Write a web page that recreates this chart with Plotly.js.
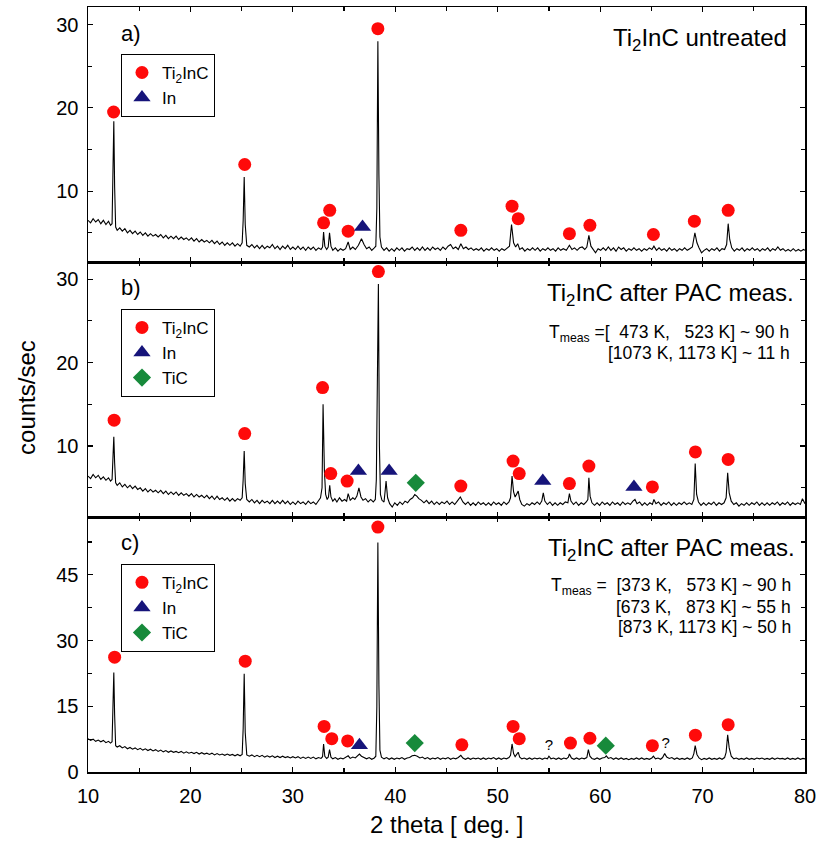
<!DOCTYPE html>
<html>
<head>
<meta charset="utf-8">
<script src="https://cdn.plot.ly/plotly-3.0.1.min.js"></script>
<style>html,body{margin:0;padding:0;background:#fff;}#chart{width:816px;height:841px;}</style>
</head>
<body>
<div id="chart"></div>
<script>
// ---------- Data ----------
// [2theta, counts/sec]
const patternA = [[10.0,6.5],[10.25,6.2],[10.5,6.7],[10.75,6.3],[11.0,6.6],[11.25,6.1],[11.5,6.5],[11.75,6.0],[12.0,6.4],[12.2,5.9],[12.35,6.1],[12.45,11.5],[12.52,18.4],[12.6,10.5],[12.7,5.7],[12.85,5.3],[13.1,5.6],[13.35,5.2],[13.6,5.5],[13.85,5.0],[14.1,5.3],[14.35,4.9],[14.6,5.2],[14.85,4.8],[15.1,5.1],[15.35,4.7],[15.6,5.0],[15.85,4.6],[16.1,4.9],[16.35,4.6],[16.6,4.8],[16.85,4.5],[17.1,4.8],[17.35,4.4],[17.6,4.7],[17.85,4.3],[18.1,4.6],[18.35,4.3],[18.6,4.6],[18.85,4.2],[19.1,4.5],[19.35,4.2],[19.6,4.4],[19.85,4.1],[20.1,4.4],[20.35,4.0],[20.6,4.3],[20.85,3.9],[21.1,4.2],[21.35,3.9],[21.6,4.1],[21.85,3.8],[22.1,4.1],[22.35,3.7],[22.6,4.0],[22.85,3.6],[23.1,3.9],[23.35,3.5],[23.6,3.8],[23.85,3.5],[24.1,3.8],[24.35,3.4],[24.6,3.7],[24.85,3.4],[25.05,3.8],[25.15,6.5],[25.25,11.7],[25.35,6.0],[25.5,3.5],[25.75,3.3],[26.0,3.6],[26.25,3.2],[26.5,3.5],[26.75,3.1],[27.0,3.5],[27.25,3.1],[27.5,3.4],[27.75,3.2],[28.0,3.6],[28.25,3.1],[28.5,3.4],[28.75,3.0],[29.0,3.4],[29.25,3.1],[29.5,3.5],[29.75,3.0],[30.0,3.3],[30.25,3.0],[30.5,3.4],[30.75,3.0],[31.0,3.3],[31.25,2.9],[31.5,3.3],[31.75,3.0],[32.0,3.3],[32.25,2.9],[32.5,3.2],[32.75,3.0],[32.9,3.3],[33.0,5.1],[33.12,3.4],[33.3,3.0],[33.45,3.3],[33.58,5.0],[33.72,3.4],[33.9,2.9],[34.15,3.2],[34.4,2.8],[34.65,3.1],[34.9,2.9],[35.15,3.1],[35.4,3.9],[35.6,3.0],[35.85,3.3],[36.1,3.0],[36.4,3.5],[36.7,4.3],[36.95,3.6],[37.2,3.1],[37.45,3.3],[37.7,2.9],[37.95,3.2],[38.1,3.4],[38.2,8.0],[38.3,28.0],[38.4,12.0],[38.5,4.5],[38.65,3.3],[38.9,2.9],[39.15,3.2],[39.4,2.8],[39.65,3.1],[39.9,2.8],[40.15,3.2],[40.4,2.9],[40.65,3.2],[40.9,2.8],[41.15,3.1],[41.4,3.0],[41.65,3.3],[41.9,2.9],[42.15,3.2],[42.4,2.9],[42.65,3.3],[42.9,2.9],[43.15,3.2],[43.4,2.9],[43.65,3.3],[43.9,3.0],[44.15,3.2],[44.4,2.9],[44.65,3.3],[44.9,3.0],[45.15,3.4],[45.4,3.6],[45.65,3.1],[45.9,3.3],[46.15,3.0],[46.4,3.7],[46.65,3.1],[46.9,3.3],[47.15,3.0],[47.4,3.2],[47.65,2.9],[47.9,3.1],[48.15,2.9],[48.4,3.2],[48.65,2.8],[48.9,3.1],[49.15,2.9],[49.4,3.2],[49.65,2.9],[49.9,3.1],[50.15,2.8],[50.4,3.1],[50.65,2.9],[50.9,3.2],[51.15,3.4],[51.35,6.0],[51.55,3.8],[51.75,3.3],[51.95,3.7],[52.15,3.0],[52.4,3.2],[52.65,2.8],[52.9,3.1],[53.15,2.9],[53.4,3.2],[53.65,2.9],[53.9,3.2],[54.15,2.8],[54.4,3.1],[54.65,2.9],[54.9,3.2],[55.15,2.9],[55.4,3.1],[55.65,2.8],[55.9,3.2],[56.15,2.9],[56.4,3.1],[56.7,2.9],[57.0,3.5],[57.25,3.0],[57.5,3.2],[57.75,2.9],[58.0,3.2],[58.25,3.3],[58.5,3.0],[58.7,3.3],[58.9,4.7],[59.1,3.4],[59.3,3.0],[59.55,2.6],[59.8,3.1],[60.05,2.9],[60.3,3.2],[60.55,2.9],[60.8,3.3],[61.05,2.9],[61.3,3.2],[61.55,2.8],[61.8,3.3],[62.05,3.0],[62.3,3.2],[62.55,2.8],[62.8,3.1],[63.05,2.9],[63.3,3.2],[63.55,2.9],[63.8,3.1],[64.05,2.8],[64.3,3.1],[64.55,2.9],[64.8,3.2],[65.05,3.0],[65.25,3.4],[65.5,2.9],[65.75,3.2],[66.0,2.9],[66.25,3.1],[66.5,2.8],[66.75,3.2],[67.0,2.9],[67.25,3.1],[67.5,2.8],[67.75,3.1],[68.0,2.9],[68.25,3.2],[68.5,2.9],[68.75,3.1],[69.0,3.3],[69.25,5.0],[69.45,3.8],[69.65,3.2],[69.9,2.6],[70.15,2.9],[70.4,3.1],[70.65,2.8],[70.9,3.1],[71.15,2.9],[71.4,3.2],[71.65,2.8],[71.9,3.1],[72.15,3.0],[72.35,3.6],[72.5,6.1],[72.65,4.2],[72.85,3.2],[73.1,2.8],[73.35,3.1],[73.6,2.9],[73.85,3.2],[74.1,2.8],[74.35,3.1],[74.6,2.9],[74.85,3.2],[75.1,2.9],[75.35,3.1],[75.6,2.8],[75.85,3.1],[76.1,2.9],[76.35,3.2],[76.6,2.8],[76.85,3.1],[77.1,2.9],[77.35,3.3],[77.6,2.9],[77.85,3.1],[78.1,2.8],[78.35,3.0],[78.6,2.8],[78.85,3.1],[79.1,2.8],[79.35,3.0],[79.6,2.8],[79.85,3.0],[80.0,2.9]];

const patternB = [[10.0,6.4],[10.25,6.1],[10.5,6.6],[10.75,6.2],[11.0,6.5],[11.25,6.0],[11.5,6.3],[11.75,5.9],[12.0,6.2],[12.2,5.8],[12.35,6.0],[12.45,9.0],[12.52,11.1],[12.6,8.0],[12.7,5.6],[12.85,5.3],[13.1,5.6],[13.35,5.1],[13.6,5.4],[13.85,5.0],[14.1,5.3],[14.35,4.9],[14.6,5.2],[14.85,4.8],[15.1,5.0],[15.35,4.6],[15.6,4.9],[15.85,4.5],[16.1,4.8],[16.35,4.5],[16.6,4.7],[16.85,4.4],[17.1,4.7],[17.35,4.3],[17.6,4.6],[17.85,4.2],[18.1,4.5],[18.35,4.2],[18.6,4.5],[18.85,4.1],[19.1,4.4],[19.35,4.1],[19.6,4.3],[19.85,4.0],[20.1,4.3],[20.35,3.9],[20.6,4.2],[20.85,3.9],[21.1,4.1],[21.35,3.8],[21.6,4.1],[21.85,3.7],[22.1,4.0],[22.35,3.6],[22.6,4.0],[22.85,3.6],[23.1,3.8],[23.35,3.5],[23.6,3.8],[23.85,3.4],[24.1,3.7],[24.35,3.4],[24.6,3.7],[24.85,3.5],[25.05,3.8],[25.15,6.0],[25.25,9.4],[25.35,5.5],[25.5,3.6],[25.75,3.3],[26.0,3.6],[26.25,3.2],[26.5,3.5],[26.75,3.1],[27.0,3.5],[27.25,3.2],[27.5,3.4],[27.75,3.1],[28.0,3.5],[28.25,3.1],[28.5,3.4],[28.75,3.1],[29.0,3.5],[29.25,3.1],[29.5,3.4],[29.75,3.0],[30.0,3.3],[30.25,3.0],[30.5,3.4],[30.75,3.1],[31.0,3.3],[31.25,3.0],[31.5,3.4],[31.75,3.1],[32.0,3.3],[32.25,3.0],[32.5,3.4],[32.7,3.8],[32.85,5.0],[32.95,15.0],[33.08,7.0],[33.2,4.2],[33.35,3.6],[33.48,3.9],[33.6,5.3],[33.72,3.9],[33.9,3.4],[34.1,3.7],[34.3,3.3],[34.55,3.8],[34.8,3.4],[35.05,3.6],[35.25,3.4],[35.4,4.3],[35.6,3.5],[35.85,3.8],[36.05,3.6],[36.25,4.0],[36.45,5.0],[36.65,3.9],[36.85,3.5],[37.1,3.7],[37.35,3.3],[37.6,3.6],[37.85,3.3],[38.05,3.6],[38.15,6.0],[38.25,18.0],[38.35,29.4],[38.45,10.0],[38.55,4.2],[38.7,3.5],[38.9,3.3],[39.0,4.5],[39.1,5.8],[39.25,3.8],[39.45,3.1],[39.7,2.7],[39.95,3.2],[40.2,2.9],[40.45,3.3],[40.7,3.0],[40.95,3.4],[41.2,3.2],[41.45,3.6],[41.7,3.8],[41.9,4.2],[42.1,4.0],[42.3,3.7],[42.55,3.5],[42.8,3.2],[43.05,3.5],[43.3,3.1],[43.55,3.4],[43.8,3.0],[44.05,3.3],[44.3,3.0],[44.55,3.3],[44.8,3.1],[45.05,3.4],[45.3,3.0],[45.55,3.3],[45.8,3.0],[46.05,3.4],[46.35,3.9],[46.6,3.3],[46.85,3.0],[47.1,3.3],[47.35,2.9],[47.6,3.2],[47.85,2.9],[48.1,3.3],[48.35,3.0],[48.6,3.2],[48.85,2.9],[49.1,3.2],[49.35,2.9],[49.6,3.3],[49.85,3.0],[50.1,3.2],[50.35,2.9],[50.6,3.3],[50.85,3.0],[51.1,3.3],[51.25,3.8],[51.4,6.4],[51.55,4.5],[51.7,3.9],[51.85,4.3],[52.0,4.6],[52.15,3.6],[52.35,3.0],[52.6,2.8],[52.85,3.1],[53.1,2.9],[53.35,3.2],[53.6,3.0],[53.85,3.3],[54.1,3.0],[54.3,3.4],[54.45,4.4],[54.6,3.4],[54.85,3.0],[55.1,3.3],[55.35,2.9],[55.6,3.2],[55.85,2.9],[56.1,3.2],[56.35,3.0],[56.6,3.3],[56.85,3.2],[57.0,4.3],[57.15,3.4],[57.4,3.0],[57.65,3.3],[57.9,2.9],[58.15,3.2],[58.4,3.0],[58.65,3.3],[58.8,3.6],[58.9,6.2],[59.02,4.0],[59.2,3.2],[59.45,2.9],[59.7,3.2],[59.95,2.9],[60.2,3.3],[60.45,3.0],[60.7,3.2],[60.95,2.9],[61.2,3.3],[61.45,3.0],[61.7,3.2],[61.95,2.9],[62.2,3.3],[62.45,3.0],[62.7,3.2],[62.95,3.0],[63.2,3.4],[63.4,3.6],[63.6,3.1],[63.85,3.3],[64.1,2.9],[64.35,3.2],[64.6,2.9],[64.85,3.2],[65.1,3.0],[65.25,3.6],[65.45,3.1],[65.7,3.3],[65.95,2.9],[66.2,3.2],[66.45,3.0],[66.7,3.3],[66.95,2.9],[67.2,3.2],[67.45,2.9],[67.7,3.2],[67.95,3.0],[68.2,3.3],[68.45,3.0],[68.7,3.2],[68.95,3.0],[69.15,3.6],[69.28,7.9],[69.42,4.2],[69.6,3.3],[69.85,2.9],[70.1,3.2],[70.35,2.9],[70.6,3.2],[70.85,3.0],[71.1,3.3],[71.35,2.9],[71.6,3.2],[71.85,3.0],[72.1,3.2],[72.3,3.8],[72.45,6.8],[72.6,4.4],[72.8,3.4],[73.05,3.0],[73.3,3.2],[73.55,2.8],[73.8,3.1],[74.05,2.9],[74.3,3.2],[74.55,2.9],[74.8,3.2],[75.05,3.0],[75.3,3.3],[75.55,2.9],[75.8,3.2],[76.05,2.9],[76.3,3.2],[76.55,2.9],[76.8,3.2],[77.05,3.0],[77.3,3.3],[77.55,2.9],[77.8,3.2],[78.05,3.0],[78.3,3.3],[78.55,2.9],[78.8,3.2],[79.05,3.0],[79.3,3.2],[79.55,3.0],[79.75,3.7],[80.0,3.1]];

const patternC = [[10.0,7.6],[10.25,7.2],[10.5,7.5],[10.75,7.0],[11.0,7.3],[11.25,6.9],[11.5,7.2],[11.75,6.7],[12.0,7.0],[12.2,6.6],[12.35,6.9],[12.45,15.0],[12.52,22.7],[12.6,13.0],[12.7,6.0],[12.85,5.7],[13.1,6.0],[13.35,5.5],[13.6,5.8],[13.85,5.3],[14.1,5.6],[14.35,5.2],[14.6,5.5],[14.85,5.1],[15.1,5.4],[15.35,5.0],[15.6,5.3],[15.85,4.9],[16.1,5.2],[16.35,4.8],[16.6,5.1],[16.85,4.7],[17.1,5.0],[17.35,4.6],[17.6,4.9],[17.85,4.5],[18.1,4.8],[18.35,4.5],[18.6,4.7],[18.85,4.4],[19.1,4.7],[19.35,4.3],[19.6,4.6],[19.85,4.3],[20.1,4.5],[20.35,4.2],[20.6,4.5],[20.85,4.1],[21.1,4.4],[21.35,4.1],[21.6,4.3],[21.85,4.0],[22.1,4.3],[22.35,3.9],[22.6,4.2],[22.85,3.9],[23.1,4.1],[23.35,3.8],[23.6,4.1],[23.85,3.8],[24.1,4.0],[24.35,3.7],[24.6,4.0],[24.85,3.7],[25.05,4.0],[25.15,10.0],[25.25,22.4],[25.35,9.0],[25.5,3.9],[25.75,3.6],[26.0,3.9],[26.25,3.5],[26.5,3.8],[26.75,3.5],[27.0,3.8],[27.25,3.4],[27.5,3.7],[27.75,3.4],[28.0,3.7],[28.25,3.3],[28.5,3.6],[28.75,3.3],[29.0,3.6],[29.25,3.3],[29.5,3.5],[29.75,3.2],[30.0,3.5],[30.25,3.2],[30.5,3.5],[30.75,3.1],[31.0,3.4],[31.25,3.1],[31.5,3.4],[31.75,3.1],[32.0,3.4],[32.25,3.0],[32.5,3.3],[32.75,3.1],[32.9,3.5],[33.0,6.4],[33.12,3.6],[33.3,3.1],[33.45,3.4],[33.58,5.1],[33.72,3.4],[33.9,3.0],[34.15,3.3],[34.4,2.9],[34.65,3.2],[34.9,3.0],[35.15,3.3],[35.4,3.7],[35.6,3.1],[35.85,3.4],[36.1,3.2],[36.3,3.6],[36.5,4.1],[36.7,3.6],[36.95,3.2],[37.2,3.0],[37.45,3.3],[37.7,2.9],[37.95,3.2],[38.1,3.6],[38.2,15.0],[38.3,52.4],[38.4,20.0],[38.5,5.0],[38.65,3.4],[38.9,3.0],[39.15,3.3],[39.4,2.9],[39.65,3.2],[39.9,2.9],[40.15,3.2],[40.4,3.0],[40.65,3.3],[40.9,2.9],[41.15,3.2],[41.4,3.3],[41.65,3.7],[41.9,3.8],[42.15,3.6],[42.4,3.2],[42.65,3.4],[42.9,3.0],[43.15,3.3],[43.4,2.9],[43.65,3.2],[43.9,3.0],[44.15,3.3],[44.4,2.9],[44.65,3.2],[44.9,3.0],[45.15,3.3],[45.4,2.9],[45.65,3.2],[45.9,3.0],[46.15,3.3],[46.4,3.8],[46.6,3.2],[46.85,2.9],[47.1,3.2],[47.35,2.9],[47.6,3.2],[47.85,3.0],[48.1,3.2],[48.35,2.9],[48.6,3.2],[48.85,2.9],[49.1,3.2],[49.35,3.0],[49.6,3.3],[49.85,2.9],[50.1,3.2],[50.35,2.9],[50.6,3.2],[50.85,3.0],[51.1,3.3],[51.25,3.8],[51.4,6.4],[51.55,4.2],[51.7,3.5],[51.85,3.9],[52.0,4.5],[52.15,3.4],[52.35,3.0],[52.6,3.2],[52.85,2.9],[53.1,3.2],[53.35,2.9],[53.6,3.2],[53.85,3.0],[54.1,3.2],[54.35,2.9],[54.6,3.2],[54.85,3.0],[55.0,3.6],[55.2,3.0],[55.45,3.2],[55.7,2.9],[55.95,3.2],[56.2,2.9],[56.45,3.2],[56.7,3.0],[56.9,3.4],[57.0,4.1],[57.2,3.2],[57.45,2.9],[57.7,3.2],[57.95,2.9],[58.2,3.2],[58.45,3.0],[58.7,3.3],[58.85,5.1],[59.0,3.6],[59.2,3.1],[59.45,2.9],[59.7,3.2],[59.95,2.9],[60.2,3.2],[60.45,3.3],[60.6,3.7],[60.8,3.1],[61.05,3.3],[61.3,2.9],[61.55,3.2],[61.8,2.9],[62.05,3.2],[62.3,2.9],[62.55,3.1],[62.8,2.8],[63.05,3.1],[63.3,2.9],[63.55,3.2],[63.8,2.9],[64.05,3.2],[64.3,2.9],[64.55,3.1],[64.8,2.9],[65.05,3.2],[65.2,3.6],[65.4,3.0],[65.65,3.2],[65.9,2.9],[66.1,3.3],[66.3,4.2],[66.5,3.4],[66.75,3.1],[67.0,3.3],[67.25,2.9],[67.5,3.2],[67.75,2.9],[68.0,3.1],[68.25,2.9],[68.5,3.2],[68.75,2.9],[69.0,3.2],[69.15,4.2],[69.28,6.0],[69.45,4.0],[69.65,3.2],[69.9,2.8],[70.15,3.1],[70.4,2.9],[70.65,3.2],[70.9,2.9],[71.15,3.1],[71.4,2.9],[71.65,3.2],[71.9,2.9],[72.15,3.3],[72.3,4.5],[72.45,8.5],[72.6,5.5],[72.8,3.6],[73.05,3.0],[73.3,3.2],[73.55,2.9],[73.8,3.1],[74.05,2.9],[74.3,3.2],[74.55,2.9],[74.8,3.1],[75.05,2.9],[75.3,3.2],[75.55,3.0],[75.8,3.2],[76.05,2.9],[76.3,3.1],[76.55,2.9],[76.8,3.2],[77.05,2.9],[77.3,3.2],[77.55,3.0],[77.8,3.1],[78.05,2.9],[78.3,3.2],[78.55,2.9],[78.8,3.1],[79.05,2.9],[79.3,3.2],[79.55,2.9],[79.8,3.1],[80.0,3.0]];

// Phase markers
const ti2incXA = [12.5, 25.3, 33.0, 33.6, 35.4, 38.3, 46.4, 51.4, 52.0, 57.0, 59.0, 65.2, 69.2, 72.5];
const ti2incYA = [19.5, 13.2, 6.2, 7.7, 5.2, 29.5, 5.3, 8.2, 6.7, 4.9, 5.9, 4.8, 6.4, 7.7];
const inXA = [36.8];
const inYA = [5.7];

const ti2incXB = [12.55, 25.3, 32.9, 33.7, 35.3, 38.35, 46.4, 51.5, 52.1, 57.0, 58.9, 65.1, 69.3, 72.5];
const ti2incYB = [13.1, 11.5, 17.0, 6.7, 5.8, 30.9, 5.2, 8.2, 6.7, 5.5, 7.6, 5.1, 9.3, 8.4];
const inXB = [36.4, 39.4, 54.4, 63.3];
const inYB = [7.0, 7.0, 5.8, 5.1];
const ticXB = [42.0];
const ticYB = [5.6];

const ti2incXC = [12.6, 25.35, 33.05, 33.8, 35.35, 38.3, 46.5, 51.5, 52.1, 57.1, 59.0, 65.1, 69.3, 72.5];
const ti2incYC = [26.2, 25.3, 10.4, 7.6, 7.1, 55.9, 6.2, 10.4, 7.6, 6.6, 7.7, 6.0, 8.4, 10.8];
const inXC = [36.5];
const inYC = [6.1];
const ticXC = [41.9, 60.55];
const ticYC = [6.6, 6.0];
const unknownXC = [55.0, 66.4];
const unknownYC = [5.8, 6.4];

const xTicks = [10, 20, 30, 40, 50, 60, 70, 80];
const yTicksAB = [10, 20, 30];
const yTicksC = [0, 15, 30, 45];

// ---------- Styling ----------
const FONT = 'Arial, "Liberation Sans", Helvetica, sans-serif';
const RED = '#ff0a0a', NAVY = '#16147a', GREEN = '#178a3b';
const NB = '\u00a0';
const SYMSIZE = {'circle': 13, 'triangle-up': 15, 'diamond': 14};

function curve(p, xa, ya) {
  return {x: p.map(d => d[0]), y: p.map(d => d[1]), xaxis: xa, yaxis: ya,
    type: 'scatter', mode: 'lines', line: {color: 'black', width: 1.1}, showlegend: false, hoverinfo: 'skip'};
}
function marks(x, y, name, sym, col, xa, ya, leg) {
  return {x: x, y: y, xaxis: xa, yaxis: ya, type: 'scatter', mode: 'markers', name: name,
    legend: leg, marker: {symbol: sym, size: SYMSIZE[sym], color: col, line: {width: 0}}};
}

const traces = [
  curve(patternA, 'x3', 'y3'),
  curve(patternB, 'x2', 'y2'),
  curve(patternC, 'x', 'y'),
  marks(ti2incXA, ti2incYA, 'Ti<sub>2</sub>InC', 'circle', RED, 'x3', 'y3', 'legend'),
  marks(inXA, inYA, 'In', 'triangle-up', NAVY, 'x3', 'y3', 'legend'),
  marks(ti2incXB, ti2incYB, 'Ti<sub>2</sub>InC', 'circle', RED, 'x2', 'y2', 'legend2'),
  marks(inXB, inYB, 'In', 'triangle-up', NAVY, 'x2', 'y2', 'legend2'),
  marks(ticXB, ticYB, 'TiC', 'diamond', GREEN, 'x2', 'y2', 'legend2'),
  marks(ti2incXC, ti2incYC, 'Ti<sub>2</sub>InC', 'circle', RED, 'x', 'y', 'legend3'),
  marks(inXC, inYC, 'In', 'triangle-up', NAVY, 'x', 'y', 'legend3'),
  marks(ticXC, ticYC, 'TiC', 'diamond', GREEN, 'x', 'y', 'legend3'),
  {x: unknownXC, y: unknownYC, xaxis: 'x', yaxis: 'y', type: 'scatter', mode: 'text', text: unknownXC.map(() => '?'),
   textfont: {family: FONT, size: 15, color: 'black'}, showlegend: false, hoverinfo: 'skip'}
];

function xAxis(anchor, labels) {
  return {anchor: anchor, domain: [0, 1], range: [10, 80], tickvals: xTicks, showticklabels: labels,
    ticks: 'inside', ticklen: 5, tickwidth: 1.2, tickcolor: 'black', showline: true, linecolor: 'black', linewidth: 1.5,
    mirror: 'allticks', showgrid: false, zeroline: false, tickfont: {family: FONT, size: 20, color: 'black'},
    ticklabelstandoff: 5, ticklabeloverflow: 'allow',
    minor: {ticks: 'inside', ticklen: 4, tickwidth: 1.2, tickcolor: 'black', dtick: 5, tick0: 10, showgrid: false}};
}
function yAxis(domain, range, tv, mdt, anchor) {
  return {anchor: anchor, domain: domain, range: range, tickvals: tv,
    ticks: 'inside', ticklen: 5, tickwidth: 1.2, tickcolor: 'black', showline: true, linecolor: 'black', linewidth: 1.5,
    mirror: 'allticks', showgrid: false, zeroline: false, tickfont: {family: FONT, size: 20, color: 'black'},
    ticklabelstandoff: 4, ticklabeloverflow: 'allow',
    minor: {ticks: 'inside', ticklen: 4, tickwidth: 1.2, tickcolor: 'black', dtick: mdt, tick0: 0, showgrid: false}};
}

const legendBase = {xref: 'paper', yref: 'paper', x: 0.046, xanchor: 'left', yanchor: 'top', bgcolor: 'white',
  bordercolor: 'black', borderwidth: 1, font: {family: FONT, size: 17, color: 'black'}, tracegroupgap: 0,
  itemclick: false, itemdoubleclick: false};

function ann(text, x, y, size, xanchor, extra) {
  return Object.assign({xref: 'paper', yref: 'paper', x: x, y: y, text: text, showarrow: false,
    xanchor: xanchor, yanchor: 'middle', font: {family: FONT, size: size, color: 'black'}}, extra || {});
}

const annotations = [
  ann('a)', 0.0432, 0.966, 22, 'left'),
  ann('b)', 0.0432, 0.6328, 22, 'left'),
  ann('c)', 0.0432, 0.2996, 22, 'left'),
  ann('Ti<sub>2</sub>InC untreated', 0.9777, 0.957, 24, 'right'),
  ann('Ti<sub>2</sub>InC after PAC meas.', 0.9874, 0.624, 24, 'right'),
  ann('Ti<sub>2</sub>InC after PAC meas.', 0.9888, 0.291, 24, 'right'),
  ann('T<sub>meas</sub> =[' + NB + NB + '473 K,' + NB + NB + NB + '523 K] ~ 90 h', 0.9805, 0.573, 17.5, 'right'),
  ann('[1073 K, 1173 K] ~ 11 h', 0.9819, 0.5479, 17.5, 'right'),
  ann('T<sub>meas</sub> =' + NB + ' [373 K,' + NB + NB + NB + '573 K] ~ 90 h', 0.9833, 0.2425, 17.5, 'right'),
  ann('[673 K,' + NB + NB + NB + '873 K] ~ 55 h', 0.9833, 0.216, 17.5, 'right'),
  ann('[873 K, 1173 K] ~ 50 h', 0.9833, 0.1899, 17.5, 'right'),
  ann('counts/sec', -0.085, 0.489, 24, 'center', {textangle: -90}),
  ann('2 theta [ deg. ]', 0.5, -0.0689, 24, 'center')
];

const layout = {
  width: 816, height: 841,
  margin: {l: 88, r: 11, t: 7, b: 69},
  paper_bgcolor: 'white', plot_bgcolor: 'white',
  font: {family: FONT, color: 'black'},
  showlegend: true,
  xaxis: xAxis('y', true),
  xaxis2: xAxis('y2', false),
  xaxis3: xAxis('y3', false),
  yaxis: yAxis([0, 1/3], [0, 58.2], yTicksC, 7.5, 'x'),
  yaxis2: yAxis([1/3, 2/3], [1.5, 32.05], yTicksAB, 5, 'x2'),
  yaxis3: yAxis([2/3, 1], [1.5, 32.1], yTicksAB, 5, 'x3'),
  legend: Object.assign({}, legendBase, {y: 0.9386}),
  legend2: Object.assign({}, legendBase, {y: 0.6054}),
  legend3: Object.assign({}, legendBase, {y: 0.2722}),
  annotations: annotations
};

Plotly.newPlot('chart', traces, layout, {displayModeBar: false, staticPlot: true});
</script>
</body>
</html>
